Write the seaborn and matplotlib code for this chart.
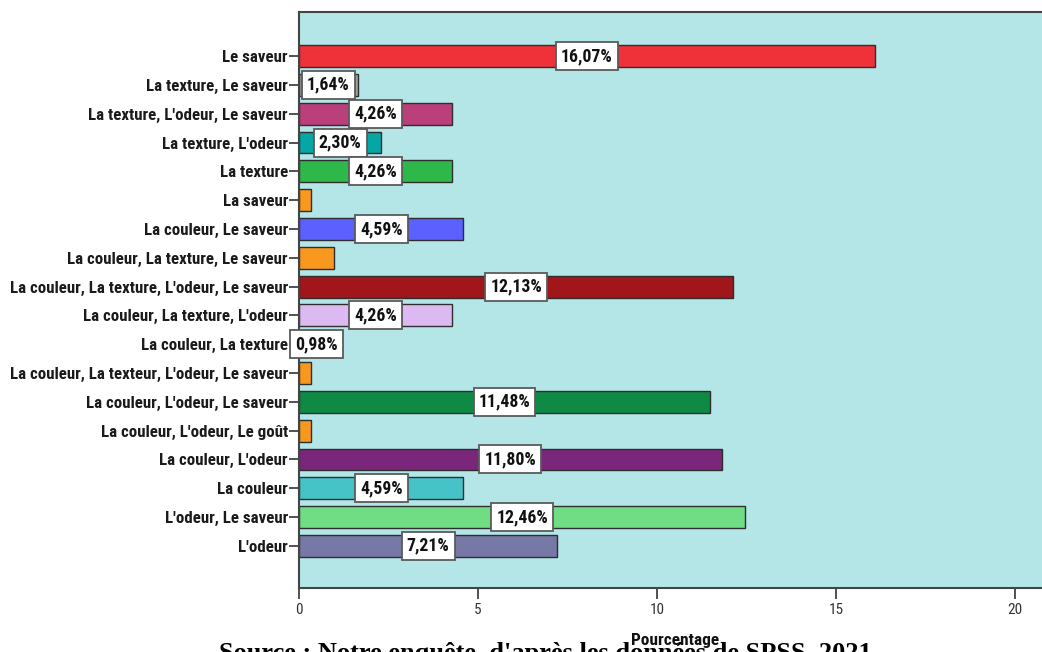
import matplotlib
matplotlib.use("Agg")
import matplotlib.pyplot as plt
from matplotlib import font_manager as fm
import seaborn as sns
import pandas as pd

# Response categories, listed top to bottom
categories = [
    "Le saveur",
    "La texture, Le saveur",
    "La texture, L'odeur, Le saveur",
    "La texture, L'odeur",
    "La texture",
    "La saveur",
    "La couleur, Le saveur",
    "La couleur, La texture, Le saveur",
    "La couleur, La texture, L'odeur, Le saveur",
    "La couleur, La texture, L'odeur",
    "La couleur, La texture",
    "La couleur, La texteur, L'odeur, Le saveur",
    "La couleur, L'odeur, Le saveur",
    "La couleur, L'odeur, Le goût",
    "La couleur, L'odeur",
    "La couleur",
    "L'odeur, Le saveur",
    "L'odeur",
]

# Share of respondents (%)
percentages = [16.07, 1.64, 4.26, 2.30, 4.26, 0.33, 4.59, 0.98, 12.13,
               4.26, 0.98, 0.33, 11.48, 0.33, 11.80, 4.59, 12.46, 7.21]

# Which bars carry a value label
labelled = [True, True, True, True, True, False, True, False, True,
            True, True, False, True, False, True, True, True, True]

bar_colors = [
    "#EF323A", "#A0A0A0", "#BA3F7B", "#05A6A6", "#2EB84A", "#F8981E",
    "#5C60FE", "#F8981E", "#A0161B", "#DDB9F1", "#F0E0C8", "#F8981E",
    "#0E8A45", "#F8981E", "#7A267A", "#46C3C7", "#70DC84", "#7878A6",
]

x_ticks = [0, 5, 10, 15, 20]

df = pd.DataFrame({"Réponse": categories, "Pourcentage": percentages})

sns.set_theme(style="white")


def narrow_family():
    """Pick a narrow sans-serif face, falling back to condensed DejaVu."""
    avail = {f.name for f in fm.fontManager.ttflist}
    for name in ["Arial Narrow", "Liberation Sans Narrow", "Roboto Condensed",
                 "Archivo Narrow", "PT Sans Narrow", "Pragati Narrow",
                 "Open Sans Condensed", "Encode Sans Condensed"]:
        if name in avail:
            return name, "normal"
    return "DejaVu Sans", "condensed"


family, stretch = narrow_family()
plt.rcParams["font.family"] = [family, "DejaVu Sans"]
plt.rcParams["font.stretch"] = stretch

fig = plt.figure(figsize=(10.42, 6.52), dpi=100)

# Size the text so the longest category name is about 278 px wide
renderer = fig.canvas.get_renderer()
probe = fig.text(0, 0, max(categories, key=len), fontsize=10, fontweight="bold",
                 fontstretch=stretch)
probe_w = probe.get_window_extent(renderer).width
probe.remove()
fs = min(13.0, 10 * 278.0 / probe_w)

ax = fig.add_axes([0.287, 0.0982, 0.7217, 0.8834])
ax.set_facecolor("#B4E6E8")

sns.barplot(
    data=df, x="Pourcentage", y="Réponse", hue="Réponse",
    palette=dict(zip(categories, bar_colors)), order=categories,
    hue_order=categories, legend=False, orient="h", width=0.76,
    saturation=1, edgecolor="#2E2E2E", linewidth=1.0, ax=ax,
)

for i, (v, show) in enumerate(zip(percentages, labelled)):
    if not show:
        continue
    txt = f"{v:.2f}".replace(".", ",") + "%"
    ax.text(v / 2, i, txt, ha="center", va="center", fontsize=fs * 1.05,
            fontweight="bold", fontstretch=stretch, color="#111111", zorder=5,
            bbox=dict(boxstyle="square,pad=0.28", fc="white", ec="#5A5A5A", lw=1.3))

ax.set_xlim(0, 21)
ax.set_ylim(len(categories) - 1 + 1.46, -1.53)
ax.set_xticks(x_ticks)
ax.set_xticklabels([str(t) for t in x_ticks])
ax.set_xlabel("Pourcentage", fontsize=fs * 1.02, fontweight="bold",
              fontstretch=stretch, labelpad=11, color="#111111")
ax.set_ylabel("")

ax.tick_params(axis="y", length=7, width=1.2, color="#333333", pad=1,
               labelsize=fs, labelcolor="#1A1A1A", left=True)
ax.tick_params(axis="x", length=8, width=1.2, color="#333333", pad=3,
               labelsize=fs * 0.9, labelcolor="#333333", bottom=True)
for lbl in ax.get_yticklabels():
    lbl.set_fontweight("bold")
    lbl.set_fontstretch(stretch)
for lbl in ax.get_xticklabels():
    lbl.set_fontstretch(stretch)

for side in ["left", "top", "bottom"]:
    ax.spines[side].set_color("#444444")
    ax.spines[side].set_linewidth(1.5)
ax.spines["right"].set_visible(False)

fig.text(0.523, -0.012, "Source : Notre enquête, d'après les données de SPSS, 2021",
         ha="center", va="baseline", fontsize=19, fontweight="bold",
         family="Liberation Serif", color="black", zorder=-1)

fig.savefig("out.png", dpi=100, facecolor="white")
